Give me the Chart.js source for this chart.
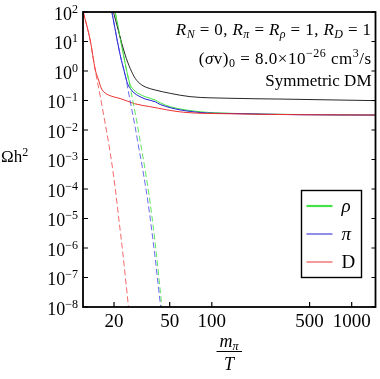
<!DOCTYPE html>
<html>
<head>
<meta charset="utf-8">
<script src="https://cdn.jsdelivr.net/npm/chart.js@4/dist/chart.umd.min.js"></script>
<style>
  html, body { margin: 0; padding: 0; background: #fff; }
  canvas { display: block; }
</style>
</head>
<body>
<canvas id="relic" width="380" height="379"></canvas>
<script>
// valores (x = m_pi/T, y = Omega h^2)
const rhoX = [20.4, 23.37, 24.71, 25.45, 26.09, 27.19, 28.32, 30.75, 33.39, 39.36, 42.8, 50.4, 82.5, 135, 427, 1480];
const rhoY = [100, 3.49, 0.947, 0.515, 0.349, 0.251, 0.205, 0.16, 0.1345, 0.104, 0.0836, 0.0617, 0.0417, 0.0368, 0.0335, 0.0324];

const piX = [19.3, 22.13, 24.03, 24.83, 26.09, 27.86, 29.9, 33.39, 39.36, 42.8, 82.5, 135, 427, 1480];
const piY = [100, 3.49, 0.732, 0.407, 0.259, 0.1795, 0.144, 0.1125, 0.091, 0.0731, 0.0392, 0.0363, 0.033, 0.032];

const dX = [12.05, 13.5, 14.7, 15.5, 15.93, 16.38, 17.01, 18.25, 20.0, 22.1, 28, 36, 62.6, 135, 427, 1480];
const dY = [100, 11.2, 1.08, 0.5, 0.3225, 0.236, 0.19, 0.1536, 0.1315, 0.117, 0.078, 0.062, 0.040, 0.0355, 0.033, 0.0322];

const totalX = [19.8, 24.03, 26.09, 28.32, 29.76, 31.6, 33.94, 39.36, 50.4, 70, 135, 307, 1480];
const totalY = [100, 3.49, 1.23, 0.566, 0.424, 0.335, 0.28, 0.227, 0.175, 0.135, 0.119, 0.112, 0.099];

// curvas de equilibrio (discontinuas)
const rhoEqX = [20.4, 23.37, 24.71, 26.09, 27.54, 29.13, 30.75, 33.39, 35.84, 38.08, 40.34, 42.17, 43.95];
const rhoEqY = [100, 3.49, 0.947, 0.287, 0.076, 0.0187, 4.24e-3, 4.4e-4, 4.95e-5, 5.57e-6, 5.36e-7, 7.03e-8, 1e-8];

const piEqX = [19.3, 22.13, 24.03, 25.37, 26.83, 28.32, 29.9, 32.31, 34.78, 37.03, 39.36, 41.21, 43.09];
const piEqY = [100, 3.49, 0.732, 0.194, 0.0476, 0.0126, 2.87e-3, 3.77e-4, 4.24e-5, 4.76e-6, 4.58e-7, 6.51e-8, 1e-8];

const dEqX = [12.05, 13.5, 14.67, 15.93, 17.01, 18.25, 19.41, 20.55, 21.77, 23.07, 24.23, 25.37];
const dEqY = [100, 11.2, 1.08, 0.142, 0.0255, 3.92e-3, 6.03e-4, 7.91e-5, 7.6e-6, 7.31e-7, 8.22e-8, 1e-8];

// ejes
const xTicks = [20, 50, 100, 500, 1000];
const yExponents = [2, 1, 0, -1, -2, -3, -4, -5, -6, -7, -8];
const legendLabels = ['ρ', 'π', 'D'];

const SERIF = '"Liberation Serif", "Times New Roman", serif';
const GREEN = 'rgb(70,225,70)';
const BLUE = 'rgb(30,30,210)';
const RED = 'rgb(238,50,50)';

const pts = (xs, ys) => xs.map((x, i) => ({ x: x, y: ys[i] }));

function serie(label, xs, ys, color, dashed) {
    return {
        label: label,
        data: pts(xs, ys),
        borderColor: color,
        borderWidth: 1,
        borderDash: dashed ? [6, 3] : [],
        pointRadius: 0,
        fill: false,
        cubicInterpolationMode: 'monotone'
    };
}

// dibuja texto con partes (cursiva, sub/superindices)
function richText(ctx, parts, x, y, align, gap) {
    gap = gap || 0;
    let w = 0;
    parts.forEach(p => { ctx.font = p.f; w += ctx.measureText(p.t).width + gap * p.t.length; });
    let cx = align === 'right' ? x - w : (align === 'center' ? x - w / 2 : x);
    ctx.textAlign = 'left';
    parts.forEach(p => {
        ctx.font = p.f;
        for (const ch of p.t) {
            ctx.fillText(ch, cx, y + (p.dy || 0));
            cx += ctx.measureText(ch).width + gap;
        }
    });
}

const framePlugin = {
    id: 'frame',
    afterDraw(chart) {
        const ctx = chart.ctx;
        const a = chart.chartArea;
        const xs = chart.scales.x, ys = chart.scales.y;
        ctx.save();
        ctx.fillStyle = '#000';
        ctx.strokeStyle = '#000';

        // marco
        ctx.lineWidth = 1.8;
        ctx.strokeRect(a.left, a.top, a.right - a.left, a.bottom - a.top);

        // ticks y (izquierda y derecha, hacia dentro)
        ctx.lineWidth = 1.2;
        ctx.textBaseline = 'alphabetic';
        yExponents.forEach(e => {
            const py = ys.getPixelForValue(Math.pow(10, e));
            ctx.beginPath();
            ctx.moveTo(a.left, py); ctx.lineTo(a.left + 5, py);
            ctx.moveTo(a.right, py); ctx.lineTo(a.right - 4, py);
            ctx.stroke();
            const sup = String(e).replace('-', '\u2212');
            ctx.font = '12px ' + SERIF;
            const we = ctx.measureText(sup).width;
            ctx.font = '18px ' + SERIF;
            const wb = ctx.measureText('10').width;
            ctx.textAlign = 'left';
            ctx.fillText('10', 78 - we - wb, py + 7.5);
            ctx.font = '12px ' + SERIF;
            ctx.fillText(sup, 78 - we, py + 0.5);
        });

        // ticks x
        ctx.font = '19px ' + SERIF;
        ctx.textAlign = 'center';
        xTicks.forEach(v => {
            const px = xs.getPixelForValue(v);
            ctx.beginPath();
            ctx.moveTo(px, a.bottom); ctx.lineTo(px, a.bottom - 5);
            ctx.stroke();
            ctx.fillText(String(v), px, 327);
        });

        // titulo eje y
        richText(ctx, [
            { t: '\u03A9h', f: '17px ' + SERIF },
            { t: '2', f: '12px ' + SERIF, dy: -6 }
        ], 1, 162, 'left');

        // titulo eje x (fraccion m_pi / T)
        richText(ctx, [
            { t: 'm', f: 'italic 18px ' + SERIF },
            { t: 'π', f: 'italic 12px ' + SERIF, dy: 3 }
        ], 229, 347, 'center');
        ctx.lineWidth = 1;
        ctx.beginPath();
        ctx.moveTo(216.5, 351.5); ctx.lineTo(242, 351.5);
        ctx.stroke();
        richText(ctx, [{ t: 'T', f: 'italic 18px ' + SERIF }], 229, 370, 'center');

        // anotaciones
        const n = '17px ' + SERIF, it = 'italic 17px ' + SERIF, sb = '12px ' + SERIF, isb = 'italic 12px ' + SERIF;
        richText(ctx, [
            { t: 'R', f: it }, { t: 'N', f: isb, dy: 3 }, { t: ' = 0, ', f: n },
            { t: 'R', f: it }, { t: 'π', f: isb, dy: 3 }, { t: ' = ', f: n },
            { t: 'R', f: it }, { t: 'ρ', f: isb, dy: 3 }, { t: ' = 1, ', f: n },
            { t: 'R', f: it }, { t: 'D', f: isb, dy: 3 }, { t: ' = 1', f: n }
        ], 371.5, 35, 'right', 0.4);
        richText(ctx, [
            { t: '(', f: n }, { t: 'σ', f: it }, { t: 'v)', f: n }, { t: '0', f: sb, dy: 3 },
            { t: ' = 8.0×10', f: n }, { t: '\u221226', f: sb, dy: -7 },
            { t: ' cm', f: n }, { t: '3', f: sb, dy: -7 }, { t: '/s', f: n }
        ], 371.5, 64, 'right', 0.5);
        richText(ctx, [{ t: 'Symmetric DM', f: n }], 371.5, 86, 'right');

        // leyenda
        ctx.lineWidth = 1.4;
        ctx.strokeRect(301.5, 190.5, 60, 87);
        const colors = [GREEN, BLUE, RED];
        const widths = [2.2, 1, 1];
        const fonts = ['italic 19px ', 'italic 19px ', '19px '];
        legendLabels.forEach((lab, i) => {
            const ly = 206 + i * 28;
            ctx.strokeStyle = colors[i];
            ctx.lineWidth = widths[i];
            ctx.beginPath();
            ctx.moveTo(306.5, ly); ctx.lineTo(332.5, ly);
            ctx.stroke();
            ctx.fillStyle = '#000';
            ctx.font = fonts[i] + SERIF;
            ctx.textAlign = 'left';
            ctx.fillText(lab, 341.5, ly + 6);
        });
        ctx.restore();
    }
};

new Chart(document.getElementById('relic').getContext('2d'), {
    type: 'line',
    data: {
        datasets: [
            serie('D eq', dEqX, dEqY, 'rgba(240,70,70,0.8)', true),
            serie('π eq', piEqX, piEqY, 'rgba(70,70,230,0.8)', true),
            serie('ρ eq', rhoEqX, rhoEqY, 'rgba(70,225,70,0.85)', true),
            serie('total', totalX, totalY, 'rgb(40,40,40)', false),
            serie('D', dX, dY, RED, false),
            serie('π', piX, piY, BLUE, false),
            serie('ρ', rhoX, rhoY, GREEN, false)
        ]
    },
    options: {
        responsive: false,
        animation: false,
        layout: { padding: { left: 83, right: 4.5, top: 12, bottom: 72 } },
        plugins: { legend: { display: false }, tooltip: { enabled: false } },
        scales: {
            x: { type: 'logarithmic', min: 12, max: 1480, display: false },
            y: { type: 'logarithmic', min: 1e-8, max: 100, display: false }
        }
    },
    plugins: [framePlugin]
});
</script>
</body>
</html>
